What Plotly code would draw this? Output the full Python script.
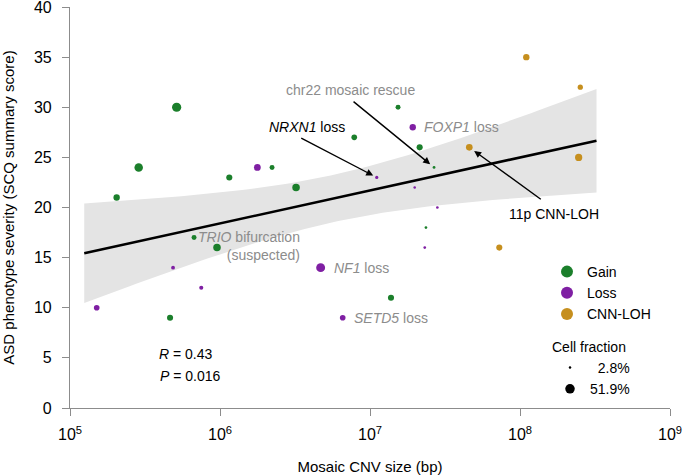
import numpy as np
import plotly.graph_objects as go

# log10 of CNV size, SCQ score, estimated cell fraction (%)
gain_log_size = [5.711, 5.458, 5.311, 6.062, 6.347, 6.507, 6.895, 7.187, 7.331, 7.427, 7.373, 7.140, 5.827, 5.980, 5.667]
gain_score = [30, 24, 21, 23, 24, 22, 27, 30, 26, 24, 18, 11, 17, 16, 9]
gain_frac = [50, 45, 30, 28, 20, 38, 25, 20, 28, 5, 4, 28, 20, 38, 28]

loss_log_size = [6.249, 7.045, 7.285, 7.298, 7.449, 7.365, 6.818, 5.687, 5.875, 5.178, 6.671]
loss_score = [24, 23, 28, 22, 20, 16, 9, 14, 12, 10, 14]
loss_frac = [33, 8, 30, 3, 4, 4, 25, 12, 14, 25, 48]

loh_log_size = [8.042, 8.402, 7.662, 8.391, 7.862]
loh_score = [35, 32, 26, 25, 16]
loh_frac = [30, 22, 32, 36, 28]

frac_min, frac_max = 2.8, 51.9
fit_log_range = [5.095, 8.51]

colors = {"Gain": "#1b7f2b", "Loss": "#7f1fa3", "CNN-LOH": "#c68f1e"}
FONT = "Liberation Sans, Arial, sans-serif"


def marker_px(frac):
    f = np.asarray(frac, dtype=float)
    return 2.5 + (f - frac_min) / (frac_max - frac_min) * 7.0


# linear fit of score on log10(size) with 95% confidence band
all_x = np.array(gain_log_size + loss_log_size + loh_log_size)
all_y = np.array(gain_score + loss_score + loh_score, dtype=float)
n = len(all_x)
slope, intercept = np.polyfit(all_x, all_y, 1)
resid = all_y - (slope * all_x + intercept)
s = np.sqrt(np.sum(resid ** 2) / (n - 2))
xbar = all_x.mean()
sxx = np.sum((all_x - xbar) ** 2)
t_crit = 2.045  # t(0.975, df=29)

xs = np.linspace(fit_log_range[0], fit_log_range[1], 80)
ys = slope * xs + intercept
half = t_crit * s * np.sqrt(1.0 / n + (xs - xbar) ** 2 / sxx)

fig = go.Figure()

fig.add_trace(go.Scatter(
    x=np.concatenate([10 ** xs, (10 ** xs)[::-1]]),
    y=np.concatenate([ys + half, (ys - half)[::-1]]),
    fill="toself", fillcolor="#e4e4e4", line=dict(width=0),
    hoverinfo="skip", showlegend=False,
))
fig.add_trace(go.Scatter(
    x=10 ** xs, y=ys, mode="lines", line=dict(color="black", width=2.6),
    hoverinfo="skip", showlegend=False,
))

for name, lx, sc, fr in [("Gain", gain_log_size, gain_score, gain_frac),
                         ("Loss", loss_log_size, loss_score, loss_frac),
                         ("CNN-LOH", loh_log_size, loh_score, loh_frac)]:
    fig.add_trace(go.Scatter(
        x=10 ** np.array(lx), y=sc, mode="markers", name=name,
        marker=dict(color=colors[name], size=marker_px(fr), opacity=1, line=dict(width=0)),
        legend="legend",
    ))

# size legend
for frac, label in [(frac_min, "\u20072.8%"), (frac_max, "51.9%")]:
    fig.add_trace(go.Scatter(
        x=[None], y=[None], mode="markers", name=label,
        marker=dict(color="black", size=float(marker_px([frac])[0]), opacity=1, line=dict(width=0)),
        legend="legend2",
    ))

GRAY = "#8c8c8c"
arrow = dict(showarrow=True, arrowhead=2, arrowsize=1, arrowwidth=1.4,
             arrowcolor="black", text="", axref="pixel", ayref="pixel")

annotations = [
    dict(x=7.427, y=24, ax=-82, ay=-67, standoff=5, **arrow),
    dict(x=7.045, y=23, ax=-77, ay=-40, standoff=4, **arrow),
    dict(x=7.662, y=26, ax=73, ay=53, standoff=6, **arrow),
    dict(x=6.867, y=31.7, text="chr22 mosaic rescue", showarrow=False,
         font=dict(color=GRAY, size=14)),
    dict(x=6.583, y=28.0, text="<i>NRXN1</i> loss", showarrow=False,
         font=dict(color="black", size=14)),
    dict(x=7.347, y=28.0, text="<i>FOXP1</i> loss", showarrow=False, xanchor="left",
         font=dict(color=GRAY, size=14)),
    dict(x=8.227, y=19.4, text="11p CNN-LOH", showarrow=False,
         font=dict(color="black", size=14)),
    dict(x=6.545, y=16.17, text="<i>TRIO</i> bifurcation<br>(suspected)", showarrow=False,
         xanchor="right", align="right", font=dict(color=GRAY, size=14)),
    dict(x=6.745, y=14.0, text="<i>NF1</i> loss", showarrow=False, xanchor="left",
         font=dict(color=GRAY, size=14)),
    dict(x=6.88, y=9.0, text="<i>SETD5</i> loss", showarrow=False, xanchor="left",
         font=dict(color=GRAY, size=14)),
    dict(x=5.578, y=5.4, text="<i>R</i> = 0.43", showarrow=False, xanchor="left",
         font=dict(color="black", size=14)),
    dict(x=5.587, y=3.2, text="<i>P</i> = 0.016", showarrow=False, xanchor="left",
         font=dict(color="black", size=14)),
]

fig.update_layout(
    width=685, height=475,
    margin=dict(l=70, r=15, t=7, b=67),
    plot_bgcolor="white", paper_bgcolor="white",
    font=dict(family=FONT, size=14, color="black"),
    annotations=annotations,
    legend=dict(x=0.795, y=0.379, xanchor="left", yanchor="top",
                itemsizing="constant", font=dict(size=14),
                bgcolor="rgba(0,0,0,0)", tracegroupgap=0),
    legend2=dict(x=0.80, y=0.185, xanchor="left", yanchor="top",
                 itemsizing="trace", font=dict(size=14),
                 title=dict(text="Cell fraction", font=dict(size=14)),
                 bgcolor="rgba(0,0,0,0)"),
)

fig.update_xaxes(
    type="log", range=[5, 9],
    tickvals=[1e5, 1e6, 1e7, 1e8, 1e9],
    ticktext=["10<sup>5</sup>", "10<sup>6</sup>", "10<sup>7</sup>", "10<sup>8</sup>", "10<sup>9</sup>"],
    showline=True, linecolor=GRAY, linewidth=1.2, ticks="outside", ticklen=7,
    tickcolor=GRAY, tickwidth=1.2, showgrid=False, zeroline=False,
    tickfont=dict(size=16), automargin=False, ticklabeloverflow="allow",
    ticklabelstandoff=5,
    title=dict(text="Mosaic CNV size (bp)", font=dict(size=15), standoff=24),
)
fig.update_yaxes(
    range=[0, 40], tickvals=[0, 5, 10, 15, 20, 25, 30, 35, 40],
    showline=True, linecolor=GRAY, linewidth=1.2, ticks="outside", ticklen=7,
    tickcolor=GRAY, tickwidth=1.2, showgrid=False, zeroline=False,
    tickfont=dict(size=16), automargin=False, ticklabeloverflow="allow",
    ticklabelstandoff=7,
    title=dict(text="ASD phenotype severity (SCQ summary score)", font=dict(size=15), standoff=21),
)

# page body has a default 8px margin; remove it so the figure fills the window
fig.write_html("out.html", config={"displayModeBar": False},
               post_script="document.body.style.margin='0';")
